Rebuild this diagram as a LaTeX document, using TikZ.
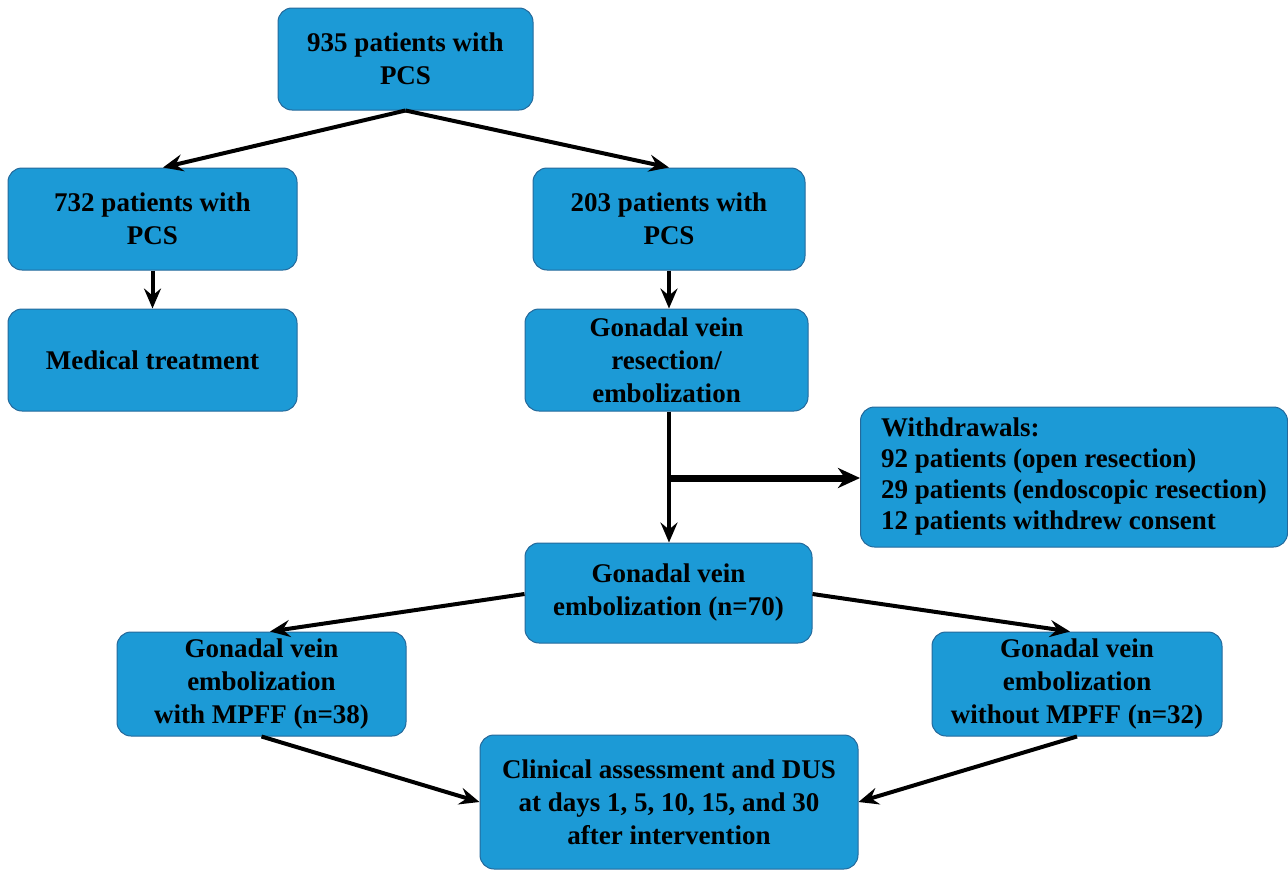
\documentclass[tikz,border=0pt]{standalone}
\usepackage{fontspec}
\setmainfont{Liberation Serif}[BoldFont={Liberation Serif Bold}]
\usetikzlibrary{arrows.meta}
\definecolor{boxfill}{RGB}{28,154,214}
\definecolor{boxline}{RGB}{36,105,155}
\begin{document}
\begin{tikzpicture}[x=1pt,y=-1pt,
  box/.style={draw=boxline, line width=1pt, fill=boxfill, rounded corners=14pt,
    align=center, font=\fontsize{27}{33}\selectfont\bfseries, inner sep=0pt},
  arr/.style={line width=4pt, -{Stealth[length=20pt,width=17pt,inset=7pt]}}]
\useasboundingbox (0,0) rectangle (1288,870);
\node[box, minimum width=255pt, minimum height=102pt] (top) at (405.5,59) {935 patients with\\PCS};
\node[box, minimum width=289pt, minimum height=102pt] (a) at (152.5,219) {732 patients with\\PCS};
\node[box, minimum width=272pt, minimum height=102pt] (b) at (669,219) {203 patients with\\PCS};
\node[box, minimum width=289pt, minimum height=102pt] (med) at (152.5,360) {Medical treatment};
\node[box, minimum width=283pt, minimum height=102pt] (res) at (666.5,360) {Gonadal vein\\resection/\\embolization};
\node[box, minimum width=427pt, minimum height=140pt, align=left, font=\fontsize{27}{31}\selectfont\bfseries] (wd) at (1074,477) {Withdrawals:\\92 patients (open resection)\\29 patients (endoscopic resection)\\12 patients withdrew consent};
\node[box, minimum width=287pt, minimum height=100pt] (emb) at (668.5,593) {Gonadal vein\\embolization (n=70)};
\node[box, minimum width=289pt, minimum height=104pt] (with) at (261.5,684) {Gonadal vein\\embolization\\with MPFF (n=38)};
\node[box, minimum width=290pt, minimum height=104pt] (without) at (1077,684) {Gonadal vein\\embolization\\without MPFF (n=32)};
\node[box, minimum width=378pt, minimum height=134pt] (clin) at (669,802) {Clinical assessment and DUS\\at days 1, 5, 10, 15, and 30\\after intervention};
\coordinate (split) at (669,478);
\draw[arr] (top.south) -- (a.north -| 163,0);
\draw[arr] (top.south) -- (b.north);
\draw[arr] (a.south) -- (a.south |- med.north);
\draw[arr] (b.south) -- (b.south |- res.north);
\draw[line width=4pt] (res.south -| split) -- (split);
\draw[arr] (split) -- (emb.north -| split);
\draw[line width=7pt, -{Stealth[length=22pt,width=20pt,inset=7pt]}] (split) -- (wd.west |- split);
\draw[arr] (emb.west |- 0,594) -- (with.north -| 270,0);
\draw[arr] (emb.east |- 0,594) -- (without.north -| 1070,0);
\draw[arr] (with.south) -- (clin.west);
\draw[arr] (without.south) -- (clin.east);
\end{tikzpicture}
\end{document}
